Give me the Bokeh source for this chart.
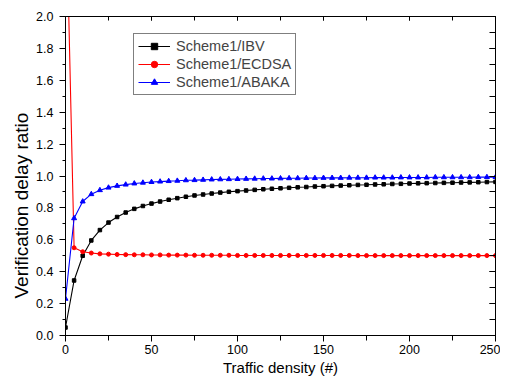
from bokeh.plotting import figure
from bokeh.models import (LinearAxis, SingleIntervalTicker, Range1d, Legend, LegendItem,
                          PrintfTickFormatter, CustomLabelingPolicy, Title)
from bokeh.embed import file_html
from bokeh.resources import INLINE

# Traffic density (#)
density = [0, 5, 10, 15, 20, 25, 30, 35, 40, 45, 50, 55, 60, 65, 70, 75, 80, 85, 90, 95,
           100, 105, 110, 115, 120, 125, 130, 135, 140, 145, 150, 155, 160, 165, 170, 175,
           180, 185, 190, 195, 200, 205, 210, 215, 220, 225, 230, 235, 240, 245, 250]

# Scheme1/IBV
ibv = [0.050, 0.345, 0.500, 0.596, 0.661, 0.708, 0.743, 0.771, 0.794, 0.812, 0.827,
       0.840, 0.851, 0.861, 0.870, 0.878, 0.884, 0.890, 0.896, 0.901, 0.905,
       0.909, 0.913, 0.917, 0.920, 0.923, 0.926, 0.929, 0.931, 0.934, 0.936,
       0.938, 0.940, 0.942, 0.944, 0.945, 0.947, 0.948, 0.950, 0.951, 0.953,
       0.954, 0.955, 0.956, 0.957, 0.958, 0.959, 0.960, 0.961, 0.962, 0.963]

# Scheme1/ECDSA
ecdsa = [2.900, 0.550, 0.525, 0.517, 0.512, 0.510, 0.508, 0.507, 0.506, 0.506, 0.505,
         0.505, 0.504, 0.504, 0.504, 0.503, 0.503, 0.503, 0.503, 0.503, 0.502,
         0.502, 0.502, 0.502, 0.502, 0.502, 0.502, 0.502, 0.502, 0.502, 0.502,
         0.502, 0.502, 0.502, 0.501, 0.501, 0.501, 0.501, 0.501, 0.501, 0.501,
         0.501, 0.501, 0.501, 0.501, 0.501, 0.501, 0.501, 0.501, 0.501, 0.501]

# Scheme1/ABAKA
abaka = [0.230, 0.735, 0.840, 0.886, 0.911, 0.927, 0.938, 0.946, 0.953, 0.958, 0.962,
         0.965, 0.968, 0.970, 0.973, 0.974, 0.976, 0.978, 0.979, 0.980, 0.981,
         0.982, 0.983, 0.984, 0.984, 0.985, 0.986, 0.986, 0.987, 0.987, 0.988,
         0.988, 0.988, 0.989, 0.989, 0.989, 0.990, 0.990, 0.990, 0.991, 0.991,
         0.991, 0.991, 0.992, 0.992, 0.992, 0.992, 0.992, 0.993, 0.993, 0.993]

x_title = "Traffic density (#)"
y_title = "Verification delay ratio"

FONT = "Liberation Sans"

p = figure(width=500, height=378, x_range=Range1d(0, 250), y_range=Range1d(0, 2),
           output_backend="svg", toolbar_location=None,
           min_border_left=65, min_border_right=5, min_border_top=16, min_border_bottom=30)
p.grid.visible = False
p.outline_line_color = "black"
p.background_fill_color = "white"
p.border_fill_color = "white"

xa = p.xaxis[0]
xa.ticker = SingleIntervalTicker(interval=50, num_minor_ticks=2)
xa.major_tick_out = 6
xa.major_tick_in = 0
xa.minor_tick_out = 5
xa.minor_tick_in = 0
xa.major_label_standoff = 3
xa.axis_label = x_title
xa.axis_label_standoff = 2
xa.axis_label_text_font = FONT
xa.axis_label_text_font_size = "15px"
xa.axis_label_text_font_style = "normal"
xa.major_label_text_font = FONT
xa.major_label_text_font_size = "12.5px"

ya = p.yaxis[0]
ya.ticker = SingleIntervalTicker(interval=0.2, num_minor_ticks=2)
ya.formatter = PrintfTickFormatter(format="%.1f")
ya.major_tick_out = 6
ya.major_tick_in = 0
ya.minor_tick_out = 3
ya.minor_tick_in = 0
ya.major_label_standoff = 6
ya.major_label_text_font = FONT
ya.major_label_text_font_size = "12.5px"

for ax in (xa, ya):
    ax.axis_line_color = "black"
    ax.major_tick_line_color = "black"
    ax.minor_tick_line_color = "black"
    ax.major_label_text_color = "black"
    ax.axis_label_text_color = "black"

# y-axis title, placed lower than centre as in the original figure
p.add_layout(Title(text=y_title, align="left", offset=37, standoff=3,
                   text_font=FONT, text_font_size="19px", text_font_style="normal",
                   text_color="black"), "left")

top = LinearAxis(ticker=SingleIntervalTicker(interval=50, num_minor_ticks=2),
                 major_label_policy=CustomLabelingPolicy(code="return new Set()"),
                 major_label_text_font_size="1px", major_label_standoff=0,
                 major_tick_in=4, major_tick_out=0, minor_tick_in=4, minor_tick_out=0)
p.add_layout(top, "above")
right = LinearAxis(ticker=SingleIntervalTicker(interval=0.2, num_minor_ticks=2),
                   major_label_policy=CustomLabelingPolicy(code="return new Set()"),
                   major_label_text_font_size="1px", major_label_standoff=0,
                   major_tick_in=6, major_tick_out=0, minor_tick_in=6, minor_tick_out=0)
p.add_layout(right, "right")

l1 = p.line(density, ibv, line_color="black", line_width=1.1)
s1 = p.scatter(density, ibv, marker="square", size=3.5, fill_color="black", line_color="black")
l2 = p.line(density, ecdsa, line_color="#ff0000", line_width=1.1)
s2 = p.scatter(density, ecdsa, marker="circle", size=4, fill_color="#ff0000", line_color="#ff0000")
l3 = p.line(density, abaka, line_color="#0000ff", line_width=1.1)
s3 = p.scatter(density, abaka, marker="triangle", size=5, fill_color="#0000ff", line_color="#0000ff")

legend = Legend(items=[LegendItem(label="Scheme1/IBV", renderers=[l1, s1]),
                       LegendItem(label="Scheme1/ECDSA", renderers=[l2, s2]),
                       LegendItem(label="Scheme1/ABAKA", renderers=[l3, s3])],
                location=(68, 240), orientation="vertical",
                label_text_font=FONT, label_text_font_size="14.5px",
                glyph_width=32, glyph_height=16, label_height=16, label_standoff=6,
                spacing=2, padding=4, margin=0,
                border_line_color="black", border_line_width=1,
                background_fill_color="white", background_fill_alpha=1)
p.add_layout(legend)

open("out.html", "w").write(file_html(p, INLINE))
